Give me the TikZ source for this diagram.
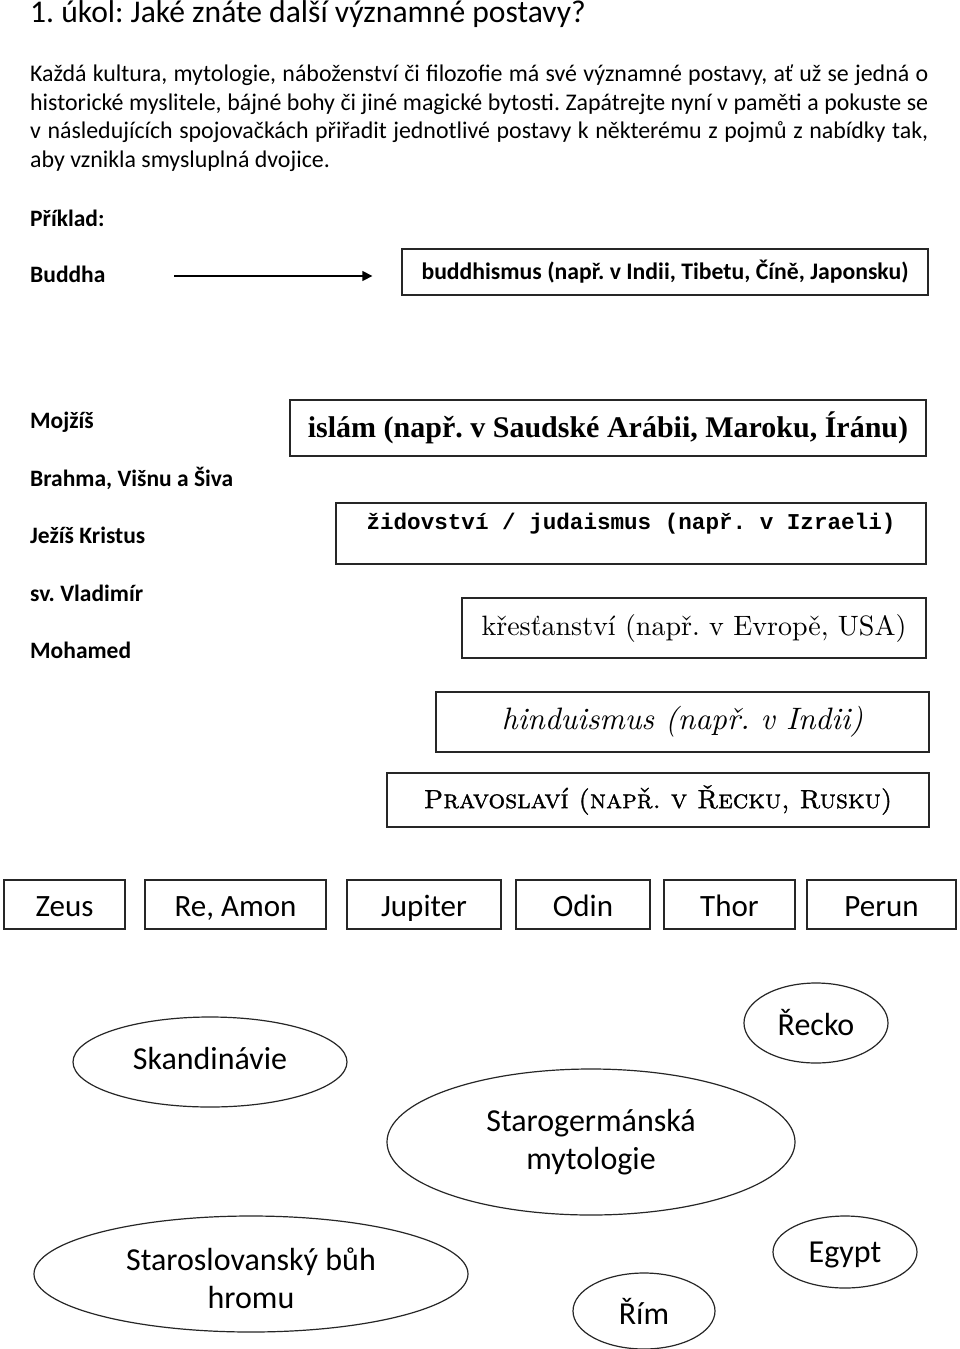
\documentclass[tikz,border=0pt]{standalone}
\usepackage{fontspec}
\setmainfont{Carlito}
\newfontfamily\lmr{lmroman10-regular.otf}[ItalicFont=lmroman10-italic.otf,BoldFont=lmroman10-bold.otf]
\newfontfamily\lmcaps{lmromancaps10-regular.otf}[FakeBold=1.2]
\newfontfamily\islamfont{Liberation Serif}
\newfontfamily\monof{Liberation Mono}
\usetikzlibrary{arrows.meta,shapes.geometric}
\frenchspacing
\newcommand{\vmove}[2]{\raisebox{#1}[\height][\depth]{#2}}
\begin{document}
\begin{tikzpicture}[x=1pt,y=-1pt,
  txt/.style={anchor=base west,inner sep=0pt},
  body/.style={txt,font=\fontsize{23.9}{28}\selectfont},
  lbl/.style={txt,font=\bfseries\fontsize{23.5}{28}\selectfont},
  box/.style={draw=black!85,line width=1.3pt,rectangle,inner sep=0pt},
  rowbox/.style={box,minimum height=49pt,font=\fontsize{31}{36}\selectfont,text height=27pt,text depth=4pt},
  oval/.style={draw=black!85,line width=1.2pt,ellipse,inner sep=0pt,align=center,font=\fontsize{32}{38}\selectfont},
  arr/.style={line width=1.3pt,-{Triangle[length=10pt,width=10pt]}}]
\useasboundingbox (0,0) rectangle (960,1349);
\fill[white] (0,0) rectangle (960,1349);

% title and paragraph
\node[txt,font=\fontsize{31.6}{36}\selectfont] (title) at (30,23) {1. úkol: Jaké znáte další významné postavy?};
\node[body] (p1) at (30,81) {\hbox to 898pt{Každá kultura, mytologie, náboženství či filozofie má své významné postavy, ať už se jedná o}};
\node[body] (p2) at (30,110) {\hbox to 898pt{historické myslitele, bájné bohy či jiné magické bytosti. Zapátrejte nyní v paměti a pokuste se}};
\node[body] (p3) at (30,138) {\hbox to 898pt{v následujících spojovačkách přiřadit jednotlivé postavy k některému z pojmů z nabídky tak,}};
\node[body] (p4) at (30,167) {aby vznikla smysluplná dvojice.};

% example
\node[lbl] (priklad) at (30,226) {Příklad:};
\node[lbl] (buddha) at (30,282) {Buddha};
\node[box,minimum width=526pt,minimum height=46pt,font=\bfseries\fontsize{23.7}{28}\selectfont] (bud) at (665,272) {buddhismus (např. v Indii, Tibetu, Číně, Japonsku)};
\coordinate (astart) at (174,276);
\draw[arr,shorten >=29pt] (astart) -- (astart -| bud.west);

% figures
\node[lbl] (mojzis) at (30,428) {Mojžíš};
\node[lbl] (brahma) at (30,486) {Brahma, Višnu a Šiva};
\node[lbl] (jezis) at (30,543) {Ježíš Kristus};
\node[lbl] (vladimir) at (30,601) {sv. Vladimír};
\node[lbl] (mohamed) at (30,658) {Mohamed};

% religions
\node[box,minimum width=636pt,minimum height=56pt,font=\islamfont\bfseries\fontsize{30}{34}\selectfont] (islam) at (608,428) {islám (např. v Saudské Arábii, Maroku, Íránu)};
\node[box,minimum width=590pt,minimum height=61pt,font=\monof\bfseries\fontsize{22.6}{28}\selectfont] (zid) at (631,533.5) {\vmove{10pt}{židovství / judaismus (např. v Izraeli)}};
\node[box,minimum width=464pt,minimum height=60pt,font=\lmr\fontsize{28}{34}\selectfont] (krest) at (694,628) {křesťanství (např. v Evropě, USA)};
\node[box,minimum width=493pt,minimum height=60pt,font=\lmr\itshape\fontsize{31}{36}\selectfont] (hindu) at (682.5,722) {hinduismus (např. v Indii)};
\node[box,minimum width=542pt,minimum height=54pt,font=\lmcaps\fontsize{26.3}{30}\selectfont] (pravo) at (658,800) {Pravoslaví (např. v Řecku, Rusku)};

% gods
\node[rowbox,minimum width=121pt] (zeus) at (64.5,904.5) {Zeus};
\node[rowbox,minimum width=181pt] (re) at (235.5,904.5) {Re, Amon};
\node[rowbox,minimum width=154pt] (jupiter) at (424,904.5) {Jupiter};
\node[rowbox,minimum width=134pt] (odin) at (583,904.5) {Odin};
\node[rowbox,minimum width=131pt] (thor) at (729.5,904.5) {Thor};
\node[rowbox,minimum width=149pt] (perun) at (881.5,904.5) {Perun};

% regions
\node[oval,minimum width=274pt,minimum height=90pt] (skand) at (210,1062) {\vmove{4pt}{Skandinávie}};
\node[oval,minimum width=144pt,minimum height=80pt] (recko) at (816,1023) {Řecko};
\node[oval,minimum width=408pt,minimum height=146pt] (germ) at (591,1142) {Starogermánská\\mytologie};
\node[oval,minimum width=434pt,minimum height=116pt] (slav) at (251,1274) {\vmove{-4pt}{Staroslovanský bůh}\\\vmove{-4pt}{hromu}};
\node[oval,minimum width=144pt,minimum height=72pt] (egypt) at (845,1252) {\vmove{-3pt}{Egypt}};
\node[oval,minimum width=142pt,minimum height=76pt] (rim) at (644,1311) {Řím};
\end{tikzpicture}
\end{document}
